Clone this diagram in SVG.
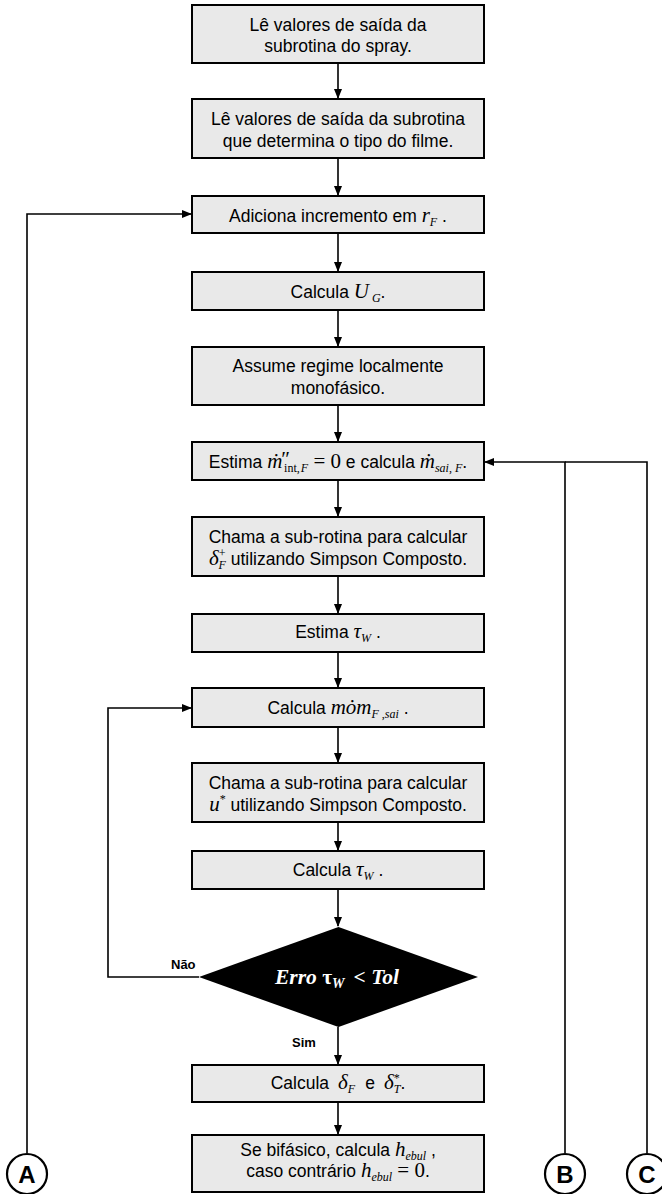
<svg xmlns="http://www.w3.org/2000/svg" width="662" height="1194" viewBox="0 0 662 1194">
<style>
.box{fill:#e9e9e9;stroke:#000;stroke-width:2}
.t{font-family:"Liberation Sans",Arial,sans-serif;font-size:17.5px;fill:#000;text-anchor:middle}
.m{font-family:"Liberation Serif","Times New Roman",serif;font-style:italic;font-size:21px}
.r{font-family:"Liberation Serif","Times New Roman",serif;font-size:21px}
.s{font-family:"Liberation Serif","Times New Roman",serif;font-style:italic;font-size:12px}
.su{font-family:"Liberation Serif","Times New Roman",serif;font-size:12px}
.c{fill:none;stroke:#000;stroke-width:1.6}
.lbl{font-family:"Liberation Sans",Arial,sans-serif;font-size:13px;font-weight:bold;fill:#000}
.circ{fill:#fff;stroke:#000;stroke-width:2.2}
.ct{font-family:"Liberation Sans",Arial,sans-serif;font-size:24px;font-weight:bold;fill:#000;text-anchor:middle}
</style>
<defs>
<marker id="ah" markerWidth="10" markerHeight="10" refX="9" refY="5" orient="auto" markerUnits="userSpaceOnUse">
<path d="M0,1 L10,5 L0,9 Z" fill="#000"/>
</marker>
</defs>
<g id="connectors">
<line class="c" x1="338" y1="63" x2="338" y2="98" marker-end="url(#ah)"/>
<line class="c" x1="338" y1="158" x2="338" y2="195" marker-end="url(#ah)"/>
<line class="c" x1="338" y1="233" x2="338" y2="271" marker-end="url(#ah)"/>
<line class="c" x1="338" y1="310" x2="338" y2="346" marker-end="url(#ah)"/>
<line class="c" x1="338" y1="405" x2="338" y2="441" marker-end="url(#ah)"/>
<line class="c" x1="338" y1="480" x2="338" y2="516" marker-end="url(#ah)"/>
<line class="c" x1="338" y1="576" x2="338" y2="613" marker-end="url(#ah)"/>
<line class="c" x1="338" y1="652" x2="338" y2="687" marker-end="url(#ah)"/>
<line class="c" x1="338" y1="727" x2="338" y2="762" marker-end="url(#ah)"/>
<line class="c" x1="338" y1="822" x2="338" y2="850" marker-end="url(#ah)"/>
<line class="c" x1="338" y1="889" x2="338" y2="926" marker-end="url(#ah)"/>
<line class="c" x1="338" y1="1027" x2="338" y2="1064" marker-end="url(#ah)"/>
<line class="c" x1="338" y1="1102" x2="338" y2="1134" marker-end="url(#ah)"/>
<polyline class="c" points="27,1153 27,214 191,214" marker-end="url(#ah)"/>
<polyline class="c" points="199,977 108,977 108,708 191,708" marker-end="url(#ah)"/>
<polyline class="c" points="565,1153 565,462 485,462" marker-end="url(#ah)"/>
<polyline class="c" points="647,1153 647,462 565,462"/>
<text class="lbl" x="171" y="969">Não</text>
<text class="lbl" x="292" y="1047">Sim</text>
</g>
<g id="n1"><rect class="box" x="192" y="5" width="292" height="58"/>
<text class="t" x="338" y="31">Lê valores de saída da</text>
<text class="t" x="338" y="52">subrotina do spray.</text></g>
<g id="n2"><rect class="box" x="192" y="99" width="292" height="59"/>
<text class="t" x="338" y="125">Lê valores de saída da subrotina</text>
<text class="t" x="338" y="147">que determina o tipo do filme.</text></g>
<g id="n3"><rect class="box" x="192" y="196" width="292" height="37"/>
<text class="t" x="338" y="222">Adiciona incremento em <tspan class="m">r</tspan><tspan class="s" dy="4">F</tspan><tspan dy="-4"> .</tspan></text></g>
<g id="n4"><rect class="box" x="192" y="272" width="292" height="38"/>
<text class="t" x="338" y="298">Calcula <tspan class="m">U</tspan><tspan class="s" dy="4"> G</tspan><tspan dy="-4">.</tspan></text></g>
<g id="n5"><rect class="box" x="192" y="347" width="292" height="58"/>
<text class="t" x="338" y="372">Assume regime localmente</text>
<text class="t" x="338" y="394">monofásico.</text></g>
<g id="n6"><rect class="box" x="192" y="442" width="292" height="38"/>
<text class="t" x="338" y="468">Estima <tspan class="m">ṁ</tspan><tspan class="r" dx="-1" dy="-2">″</tspan><tspan class="su" dx="-6" dy="6">int,</tspan><tspan class="s" dx="1">F</tspan><tspan class="r" dy="-4"> = 0</tspan> e calcula <tspan class="m">ṁ</tspan><tspan class="s" dy="4">sai</tspan><tspan class="su">, </tspan><tspan class="s">F</tspan><tspan dy="-4">.</tspan></text></g>
<g id="n7"><rect class="box" x="192" y="517" width="292" height="59"/>
<text class="t" x="338" y="543">Chama a sub-rotina para calcular</text>
<text class="t" x="338" y="565"><tspan class="m">δ</tspan><tspan class="su" dy="-8">+</tspan><tspan class="s" dx="-7" dy="12">F</tspan><tspan dy="-4"> utilizando Simpson Composto.</tspan></text></g>
<g id="n8"><rect class="box" x="192" y="614" width="292" height="38"/>
<text class="t" x="338" y="638">Estima <tspan class="m">τ</tspan><tspan class="s" dy="4">W</tspan><tspan dy="-4"> .</tspan></text></g>
<g id="n9"><rect class="box" x="192" y="688" width="292" height="39"/>
<text class="t" x="338" y="714">Calcula  <tspan class="m">mȯm</tspan><tspan class="s" dy="4">F </tspan><tspan class="su">,</tspan><tspan class="s">sai</tspan><tspan dy="-4"> .</tspan></text></g>
<g id="n10"><rect class="box" x="192" y="763" width="292" height="59"/>
<text class="t" x="338" y="789">Chama a sub-rotina para calcular</text>
<text class="t" x="338" y="811"><tspan class="m">u</tspan><tspan class="su" dy="-8">*</tspan><tspan dy="8"> utilizando Simpson Composto.</tspan></text></g>
<g id="n11"><rect class="box" x="192" y="851" width="292" height="38"/>
<text class="t" x="338" y="876">Calcula <tspan class="m">τ</tspan><tspan class="s" dy="4">W</tspan><tspan dy="-4"> .</tspan></text></g>
<g id="n12"><polygon points="338.5,927 478,977 338.5,1027 199,977" fill="#000"/>
<text x="337" y="984" text-anchor="middle" fill="#fff" font-family="Liberation Serif,Times New Roman,serif" font-weight="bold" font-size="21.5"><tspan font-style="italic">Erro </tspan><tspan>τ</tspan><tspan font-style="italic" font-size="14" dy="4">W</tspan><tspan dx="9" dy="-4">&lt; </tspan><tspan font-style="italic">Tol</tspan></text></g>
<g id="n13"><rect class="box" x="192" y="1065" width="292" height="37"/>
<text class="t" x="338" y="1089">Calcula<tspan class="m" dx="9">δ</tspan><tspan class="s" dy="4">F</tspan><tspan dx="10" dy="-4">e</tspan><tspan class="m" dx="9">δ</tspan><tspan class="su" dy="-7">*</tspan><tspan class="s" dx="-6" dy="11">T</tspan><tspan dy="-4">.</tspan></text></g>
<g id="n14"><rect class="box" x="192" y="1135" width="292" height="57"/>
<text class="t" x="338" y="1156">Se bifásico, calcula  <tspan class="m">h</tspan><tspan class="s" dy="4">ebul</tspan><tspan dy="-4"> ,</tspan></text>
<text class="t" x="338" y="1177">caso contrário <tspan class="m">h</tspan><tspan class="s" dy="4">ebul</tspan><tspan class="r" dy="-4"> = 0</tspan>.</text></g>
<g id="A"><circle class="circ" cx="27" cy="1174" r="20"/><text class="ct" x="27" y="1183">A</text></g>
<g id="B"><circle class="circ" cx="565" cy="1174" r="20"/><text class="ct" x="565" y="1183">B</text></g>
<g id="C"><circle class="circ" cx="647" cy="1174" r="20"/><text class="ct" x="647" y="1183">C</text></g>
</svg>
